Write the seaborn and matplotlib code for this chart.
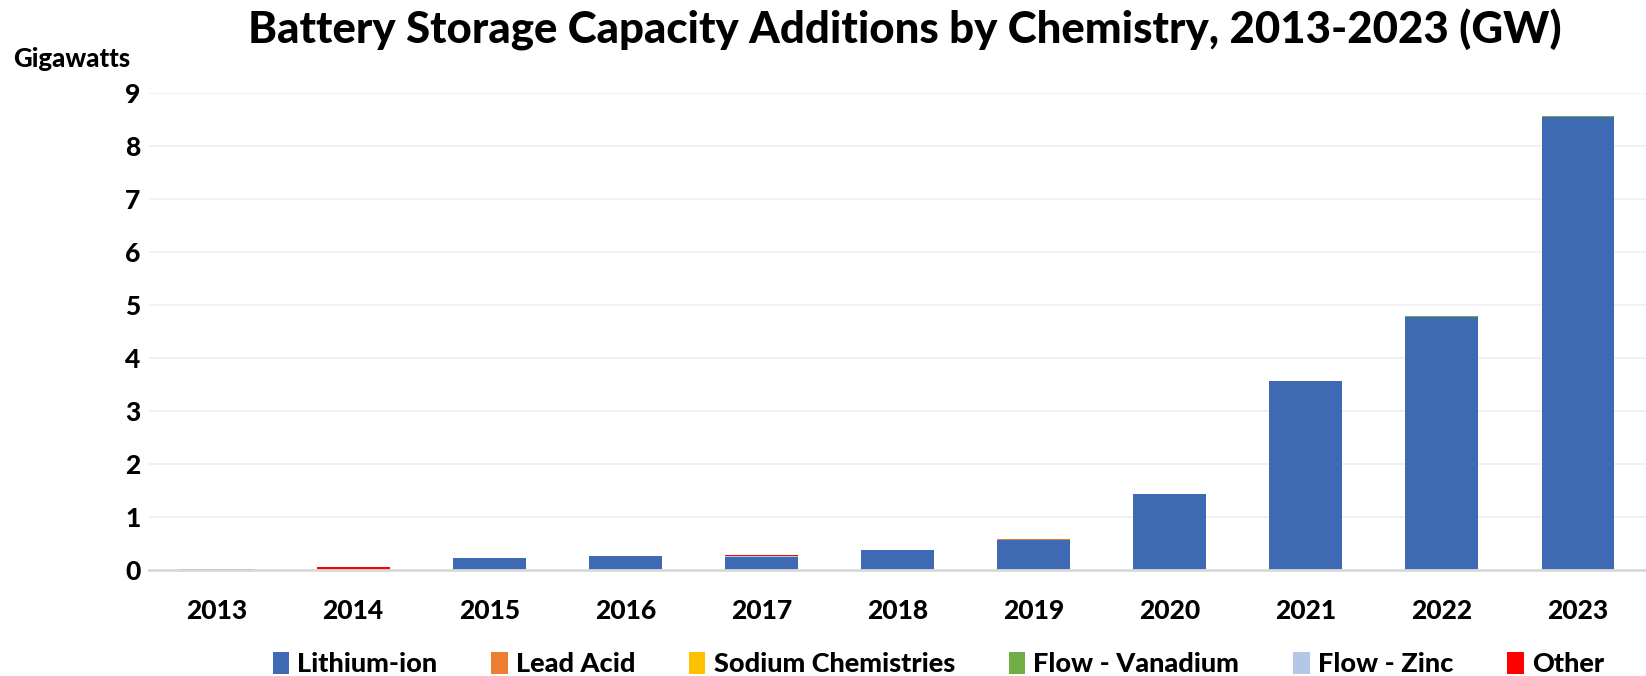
import matplotlib
matplotlib.use("Agg")
import matplotlib.pyplot as plt
import seaborn as sns
import pandas as pd
import numpy as np
from matplotlib.patches import Patch

years = ["2013", "2014", "2015", "2016", "2017", "2018", "2019", "2020", "2021", "2022", "2023"]
series_names = ["Lithium-ion", "Lead Acid", "Sodium Chemistries", "Flow - Vanadium", "Flow - Zinc", "Other"]
lithium_ion = [0.005, 0.02, 0.22, 0.26, 0.25, 0.37, 0.56, 1.43, 3.56, 4.77, 8.54]
lead_acid = [0.0, 0.0, 0.01, 0.0, 0.0, 0.0, 0.02, 0.01, 0.01, 0.01, 0.01]
sodium = [0.0, 0.005, 0.0, 0.0, 0.0, 0.0, 0.0, 0.0, 0.0, 0.0, 0.0]
flow_vanadium = [0.0, 0.0, 0.0, 0.0, 0.0, 0.005, 0.005, 0.0, 0.0, 0.005, 0.01]
flow_zinc = [0.0, 0.0, 0.0, 0.0, 0.01, 0.0, 0.0, 0.0, 0.0, 0.0, 0.0]
other = [0.005, 0.04, 0.0, 0.01, 0.03, 0.0, 0.0, 0.0, 0.0, 0.0, 0.0]
y_ticks = [0, 1, 2, 3, 4, 5, 6, 7, 8, 9]

colors = ["#3E6AB4", "#ED7D31", "#FFC000", "#70AD47", "#B4C7E7", "#FF0000"]
values = [lithium_ion, lead_acid, sodium, flow_vanadium, flow_zinc, other]

sns.set_theme(style="white")
plt.rcParams["font.family"] = ["Lato", "DejaVu Sans"]
plt.rcParams["font.weight"] = "heavy"
plt.rcParams["text.color"] = "black"
plt.rcParams["xtick.color"] = "black"
plt.rcParams["ytick.color"] = "black"
W = 900

fig = plt.figure(figsize=(16.46, 6.76), dpi=100)
ax = fig.add_axes([0.0905, 0.1568, 0.9095, 0.7056])

bottom = np.zeros(len(years))
for name, vals, col in zip(series_names, values, colors):
    df = pd.DataFrame({"year": years, "value": vals})
    sns.barplot(data=df, x="year", y="value", color=col, bottom=bottom,
                width=0.535, ax=ax, saturation=1, linewidth=0, errorbar=None)
    bottom = bottom + np.array(vals)

ax.set_xlim(-0.5, len(years) - 0.5)
ax.set_ylim(0, 9)
ax.set_yticks(y_ticks)
ax.yaxis.grid(True, color="#EFEFEF", linewidth=1.2)
ax.set_axisbelow(True)
for s in ["left", "right", "top"]:
    ax.spines[s].set_visible(False)
ax.spines["bottom"].set_color("#D9D9D9")
ax.spines["bottom"].set_linewidth(2)
ax.set_xlabel("")
ax.set_ylabel("")
ax.tick_params(axis="y", length=0, pad=6, labelsize=19)
ax.tick_params(axis="x", length=0, pad=21, labelsize=19)
for lbl in ax.get_xticklabels() + ax.get_yticklabels():
    lbl.set_fontweight(W)

fig.text(0.55, 0.955, "Battery Storage Capacity Additions by Chemistry, 2013-2023 (GW)",
         ha="center", va="center", fontsize=31.5, fontweight=W)
fig.text(0.008, 0.912, "Gigawatts", ha="left", va="center", fontsize=18.5, fontweight=W)

handles = [Patch(facecolor=c, edgecolor="none") for c in colors]
leg = fig.legend(handles, series_names, loc="center", bbox_to_anchor=(0.570, 0.018),
                 ncol=6, frameon=False, prop={"weight": W, "size": 19.5},
                 handlelength=0.6, handleheight=0.9, handletextpad=0.3, columnspacing=2.0)

fig.savefig("out.png", dpi=100)
